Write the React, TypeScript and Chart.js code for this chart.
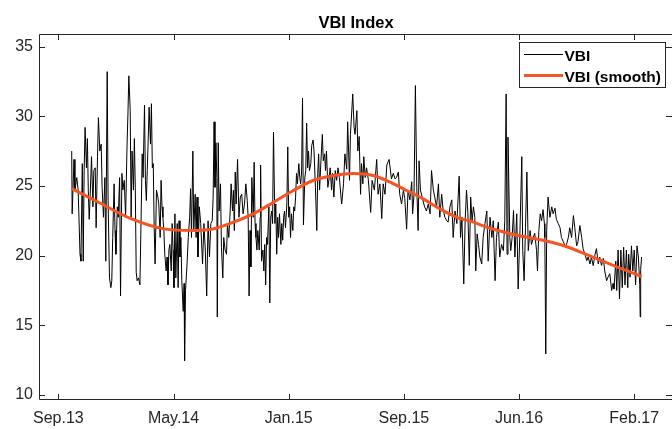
import React, { useEffect, useRef } from 'react';
import { Chart, registerables } from 'chart.js';

Chart.register(...registerables);

// x axis: days since the first tick (Sep.13)
const tickDays = [0, 250, 500, 750, 1000, 1250];
const tickLabels = ['Sep.13', 'May.14', 'Jan.15', 'Sep.15', 'Jun.16', 'Feb.17'];
const yTicks = [10, 15, 20, 25, 30, 35];

const days = [
  29, 30, 34, 36, 40, 43, 47, 49, 52, 54,
  56, 58, 61, 63, 65, 67, 69, 72, 75, 77,
  80, 82, 85, 87, 90, 93, 95, 98, 101, 103,
  106, 108, 111, 114, 116, 118, 121, 123, 125, 128,
  130, 133, 135, 138, 140, 143, 146, 149, 151, 153,
  156, 158, 160, 163, 165, 167, 169, 171, 174, 177,
  179, 182, 184, 187, 189, 191, 193, 195, 197, 200,
  202, 204, 206, 208, 210, 213, 216, 218, 221, 223,
  225, 227, 229, 231, 234, 236, 238, 240, 242, 245,
  247, 249, 251, 253, 255, 258, 260, 262, 264, 266,
  268, 271, 273, 274, 276, 279, 282, 285, 287, 289,
  292, 294, 297, 299, 301, 303, 306, 309,
  313, 316, 319, 322, 325, 328, 331, 334, 336, 338,
  340, 342, 344, 345, 347, 349, 352, 354, 357, 359,
  362, 365, 367, 370, 373, 375, 378, 380, 382, 384,
  386, 389, 392, 395, 398, 401, 404, 407, 410, 412,
  414, 416, 418, 420, 423, 425, 427, 429, 431, 433,
  436, 438, 439, 441, 444, 446, 448, 450, 452, 454,
  457, 459, 461, 463, 465, 467, 470, 472, 474, 476,
  478, 480, 483, 485, 487, 489, 491, 493, 496, 498,
  500, 502, 504, 506, 509, 511, 513, 515, 517, 519,
  522, 524, 526, 528, 530, 532, 535, 537, 539, 541,
  543, 545, 548, 550, 553, 555, 558, 561, 563, 565,
  567, 570, 573, 575, 578, 580, 582, 585, 588, 590,
  593, 595, 598, 601, 604, 607, 610, 613, 615,
  619, 622, 626, 628, 632, 634, 639, 642, 644, 648,
  650, 653, 656, 658, 661, 663, 666, 669, 673, 678,
  681, 686, 691, 694, 698, 702, 705, 709, 713, 718,
  723, 727, 731, 734, 738, 741, 745, 749, 752, 756,
  759, 763, 767, 769, 772, 775, 778, 781, 783, 786,
  791, 795, 799, 803, 807, 810, 814, 817, 821, 825,
  828, 832, 835, 839, 843, 846, 850, 854, 857, 861,
  865, 870, 873, 876, 880, 883, 886, 889, 892, 895,
  898, 901, 904, 906, 909, 912, 915, 919, 922,
  926, 930, 933, 937, 941, 944, 948, 951, 955, 958,
  962, 966, 969, 972, 974, 976, 980, 982, 985, 988,
  991, 995, 998, 1002, 1006, 1008, 1011, 1014, 1017, 1020,
  1024, 1027, 1031, 1034, 1038, 1040, 1043, 1046, 1049, 1052,
  1055, 1056, 1058, 1060, 1063, 1067, 1071, 1074, 1078, 1081,
  1085, 1089, 1092, 1096, 1100, 1103, 1107, 1110, 1114, 1118,
  1121, 1125, 1128, 1132, 1136, 1139, 1143, 1147, 1150, 1154,
  1157, 1161, 1165, 1168, 1172, 1175, 1179, 1183, 1186, 1190,
  1193, 1197, 1201, 1204, 1206, 1210, 1212, 1215, 1218, 1221,
  1224, 1227, 1230, 1233, 1236, 1238, 1241, 1244, 1247, 1250,
  1253, 1256, 1259, 1262, 1263, 1264, 1266,
];

const vbi = [
  27.5, 23.0, 26.9, 24.7, 25.6, 24.7, 20.1, 19.6, 26.6, 19.6,
  26.1, 29.2, 26.3, 28.4, 24.7, 22.6, 24.2, 27.1, 23.5, 26.1,
  26.3, 22.0, 27.1, 29.9, 27.5, 28.0, 24.9, 22.75, 25.6, 19.6,
  33.2, 23.95, 18.4, 17.7, 18.2, 21.3, 25.15, 21.8, 20.1, 23.5,
  22.75, 25.6, 17.1, 25.9, 24.7, 25.4, 22.75, 27.8, 30.1, 32.9,
  30.4, 22.75, 27.5, 24.7, 28.4, 24.9, 18.8, 18.2, 18.4, 17.9,
  21.5, 27.3, 25.6, 30.8, 25.4, 23.95, 26.1, 28.3, 30.65, 28.0,
  30.9, 26.3, 26.6, 22.0, 19.4, 24.7, 24.2, 23.7, 21.3, 25.4,
  23.5, 22.75, 21.8, 20.1, 18.9, 19.9, 17.9, 20.4, 20.8, 18.9,
  22.3, 20.4, 17.7, 23.0, 18.4, 22.3, 17.7, 22.5, 19.9, 21.3,
  18.2, 16.0, 18.0, 12.46, 17.5, 19.2, 21.3, 22.75, 24.8, 21.3,
  27.5, 21.8, 24.4, 21.3, 24.2, 19.9, 23.5, 22.3,
  19.4, 22.3, 20.4, 17.1, 22.5, 19.9, 22.3, 22.5, 24.2, 29.6,
  24.9, 28.1, 25.6, 15.6, 28.1, 23.2, 25.15, 20.6, 18.4, 21.3,
  20.4, 20.1, 22.3, 21.3, 23.2, 25.15, 23.2, 24.7, 21.8, 26.0,
  23.7, 26.9, 22.75, 24.2, 24.4, 23.0, 23.7, 25.15, 23.95, 22.75,
  17.1, 21.8, 19.2, 25.6, 22.75, 26.7, 22.3, 21.3, 20.4, 21.8,
  20.4, 22.75, 26.5, 19.6, 20.4, 18.9, 20.8, 17.9, 21.3, 20.8,
  23.5, 16.6, 22.75, 23.2, 22.3, 28.86, 22.3, 23.7, 20.1, 22.75,
  21.3, 23.0, 20.8, 22.3, 21.1, 22.75, 23.2, 22.0, 23.7, 27.8,
  22.75, 23.5, 21.3, 23.0, 21.8, 23.5, 23.2, 24.2, 25.9, 25.15,
  26.6, 25.6, 25.15, 26.0, 31.3, 22.2, 25.6, 26.1, 29.5, 26.3,
  27.5, 26.1, 26.6, 27.9, 28.3, 27.5, 24.9, 21.8, 25.9, 27.3,
  24.7, 26.8, 28.7, 26.8, 27.3, 26.1, 27.5, 24.9, 25.6, 26.3,
  24.7, 25.9, 24.2, 26.1, 25.4, 26.3, 25.6, 24.4, 23.7,
  25.15, 27.3, 26.2, 29.6, 25.4, 28.7, 31.6, 29.2, 28.7, 30.4,
  27.5, 28.55, 24.4, 26.6, 25.15, 27.1, 25.6, 26.3, 25.4, 23.1,
  25.4, 24.7, 26.9, 24.4, 25.15, 22.66, 25.15, 24.4, 26.5, 26.9,
  25.5, 25.9, 25.5, 25.6, 26.0, 24.4, 23.7, 24.7, 24.1, 21.9,
  24.7, 24.0, 25.3, 23.0, 24.4, 32.2, 24.9, 21.8, 26.8, 24.7,
  24.0, 23.5, 23.2, 23.7, 23.0, 26.1, 24.7, 24.2, 23.5, 25.15,
  22.75, 24.4, 23.35, 22.75, 22.5, 22.4, 23.5, 24.0, 21.3, 23.2,
  22.3, 25.7, 21.3, 22.75, 17.97, 22.5, 24.7, 23.0, 19.3, 24.2,
  22.5, 23.5, 22.75, 18.9, 21.56, 20.8, 19.9, 19.4, 21.3,
  22.3, 23.2, 19.6, 22.75, 21.3, 22.5, 18.2, 21.3, 22.4, 19.9,
  20.8, 20.36, 22.5, 31.6, 20.1, 28.5, 21.3, 20.36, 21.3, 23.23,
  19.9, 23.0, 17.6, 21.8, 27.1, 20.36, 18.2, 22.0, 26.0, 20.36,
  21.8, 20.8, 21.3, 21.6, 20.36, 18.9, 21.8, 23.0, 22.5, 23.3,
  22.3, 21.3, 12.94, 21.8, 24.2, 22.75, 23.5, 23.0, 23.4, 22.6,
  22.3, 22.0, 21.3, 21.0, 20.7, 20.8, 21.3, 22.0, 21.3, 22.87,
  22.0, 20.7, 21.0, 22.16, 21.3, 20.5, 20.1, 19.64, 19.9, 19.4,
  19.9, 19.28, 20.1, 20.5, 19.4, 19.9, 19.3, 19.8, 18.9, 18.2,
  18.45, 18.7, 17.5, 18.0, 17.6, 19.6, 17.5, 20.4, 16.9, 20.4,
  17.7, 20.6, 17.9, 20.4, 17.7, 20.1, 18.45, 20.7, 18.9, 20.4,
  17.9, 20.7, 19.9, 17.9, 15.6, 19.0, 19.9,
];

const smoothDays = [29, 87, 159, 232, 289, 340, 380, 423, 467, 510, 553, 597, 640, 684, 720, 756, 792, 828, 865, 901, 937, 998, 1071, 1107, 1143, 1179, 1215, 1266];
const smoothVbi = [24.8, 23.83, 22.63, 21.9, 21.8, 21.95, 22.4, 23.0, 23.83, 24.67, 25.39, 25.75, 25.9, 25.75, 25.27, 24.67, 24.07, 23.35, 22.75, 22.4, 21.96, 21.44, 20.96, 20.6, 20.12, 19.64, 19.16, 18.5];

const AXIS = '#262626';
const SMOOTH = 'rgb(246, 84, 34)';
const FONT = '"Liberation Sans", Arial, Helvetica, sans-serif';

const framePlugin = {
  id: 'matlabFrame',
  afterDraw(chart: any) {
    const { ctx, chartArea: a, scales } = chart;
    const xs = scales.x;
    const ys = scales.y;
    ctx.save();
    ctx.strokeStyle = AXIS;
    ctx.lineWidth = 1;
    ctx.beginPath();
    ctx.moveTo(a.left + 0.5, a.top + 0.5);
    ctx.lineTo(a.right + 0.5, a.top + 0.5);
    ctx.moveTo(a.left + 0.5, a.top + 0.5);
    ctx.lineTo(a.left + 0.5, a.bottom - 0.5);
    ctx.lineTo(a.right + 0.5, a.bottom - 0.5);
    ctx.lineTo(a.right + 0.5, a.top + 0.5);
    const tl = 6;
    tickDays.forEach((d) => {
      const px = Math.round(xs.getPixelForValue(d)) + 0.5;
      ctx.moveTo(px, a.bottom);
      ctx.lineTo(px, a.bottom - tl);
      ctx.moveTo(px, a.top);
      ctx.lineTo(px, a.top + tl);
    });
    yTicks.forEach((v) => {
      const py = Math.round(ys.getPixelForValue(v)) + 0.5;
      ctx.moveTo(a.left, py);
      ctx.lineTo(a.left + tl, py);
      ctx.moveTo(a.right, py);
      ctx.lineTo(a.right - tl, py);
    });
    ctx.stroke();

    // title
    ctx.fillStyle = '#000';
    ctx.font = `bold 16.5px ${FONT}`;
    ctx.textAlign = 'center';
    ctx.textBaseline = 'alphabetic';
    ctx.fillText('VBI Index', (a.left + a.right) / 2 + 0.5, 28);

    // legend
    const lx = 519.5, ly = 42.5, lw = 146, lh = 45;
    ctx.fillStyle = '#fff';
    ctx.fillRect(lx, ly, lw, lh);
    ctx.strokeStyle = AXIS;
    ctx.lineWidth = 1;
    ctx.strokeRect(lx, ly, lw, lh);
    ctx.strokeStyle = '#000';
    ctx.lineWidth = 1;
    ctx.beginPath();
    ctx.moveTo(524, 54.5);
    ctx.lineTo(563, 54.5);
    ctx.stroke();
    ctx.strokeStyle = SMOOTH;
    ctx.lineWidth = 3;
    ctx.beginPath();
    ctx.moveTo(524, 75.5);
    ctx.lineTo(563, 75.5);
    ctx.stroke();
    ctx.fillStyle = '#000';
    ctx.font = `bold 15.5px ${FONT}`;
    ctx.textAlign = 'left';
    ctx.fillText('VBI', 564.5, 60.5);
    ctx.fillText('VBI (smooth)', 564.5, 81.5);
    ctx.restore();
  },
};

export default function App() {
  const ref = useRef<HTMLCanvasElement>(null);
  useEffect(() => {
    const chart = new Chart(ref.current as HTMLCanvasElement, {
      type: 'line',
      data: {
        datasets: [
          {
            label: 'VBI (smooth)',
            data: smoothDays.map((d, i) => ({ x: d, y: smoothVbi[i] })),
            borderColor: SMOOTH,
            borderWidth: 3,
            pointRadius: 0,
            cubicInterpolationMode: 'monotone',
            fill: false,
            order: 0,
          },
          {
            label: 'VBI',
            data: days.map((d, i) => ({ x: d, y: vbi[i] })),
            borderColor: '#000',
            borderWidth: 1,
            pointRadius: 0,
            tension: 0,
            fill: false,
            order: 1,
          },
        ],
      },
      options: {
        animation: false,
        responsive: true,
        maintainAspectRatio: false,
        events: [],
        layout: { padding: { top: 34, left: 0, right: 0, bottom: 0 } },
        plugins: {
          legend: { display: false },
          title: { display: false },
          tooltip: { enabled: false },
        },
        scales: {
          x: {
            type: 'linear',
            min: -42,
            max: 1332,
            grid: { display: false, drawTicks: false },
            border: { display: false },
            afterBuildTicks: (s: any) => {
              s.ticks = tickDays.map((v) => ({ value: v }));
            },
            afterFit: (s: any) => {
              s.height = 29;
            },
            ticks: {
              autoSkip: false,
              maxRotation: 0,
              padding: 9,
              color: AXIS,
              font: { family: FONT, size: 16 },
              callback: (_v: any, i: number) => tickLabels[i],
            },
          },
          y: {
            type: 'linear',
            min: 9.64,
            max: 35.9,
            grid: { display: false, drawTicks: false },
            border: { display: false },
            afterBuildTicks: (s: any) => {
              s.ticks = yTicks.map((v) => ({ value: v }));
            },
            afterFit: (s: any) => {
              s.width = 39;
            },
            ticks: {
              padding: 6,
              color: AXIS,
              font: { family: FONT, size: 16 },
              callback: (v: any) => String(v),
            },
          },
        },
      },
      plugins: [framePlugin],
    } as any);
    return () => chart.destroy();
  }, []);
  return (
    <div style={{ position: 'fixed', left: 0, top: 0, width: 672, height: 429, background: '#fff' }}>
      <canvas ref={ref} />
    </div>
  );
}
